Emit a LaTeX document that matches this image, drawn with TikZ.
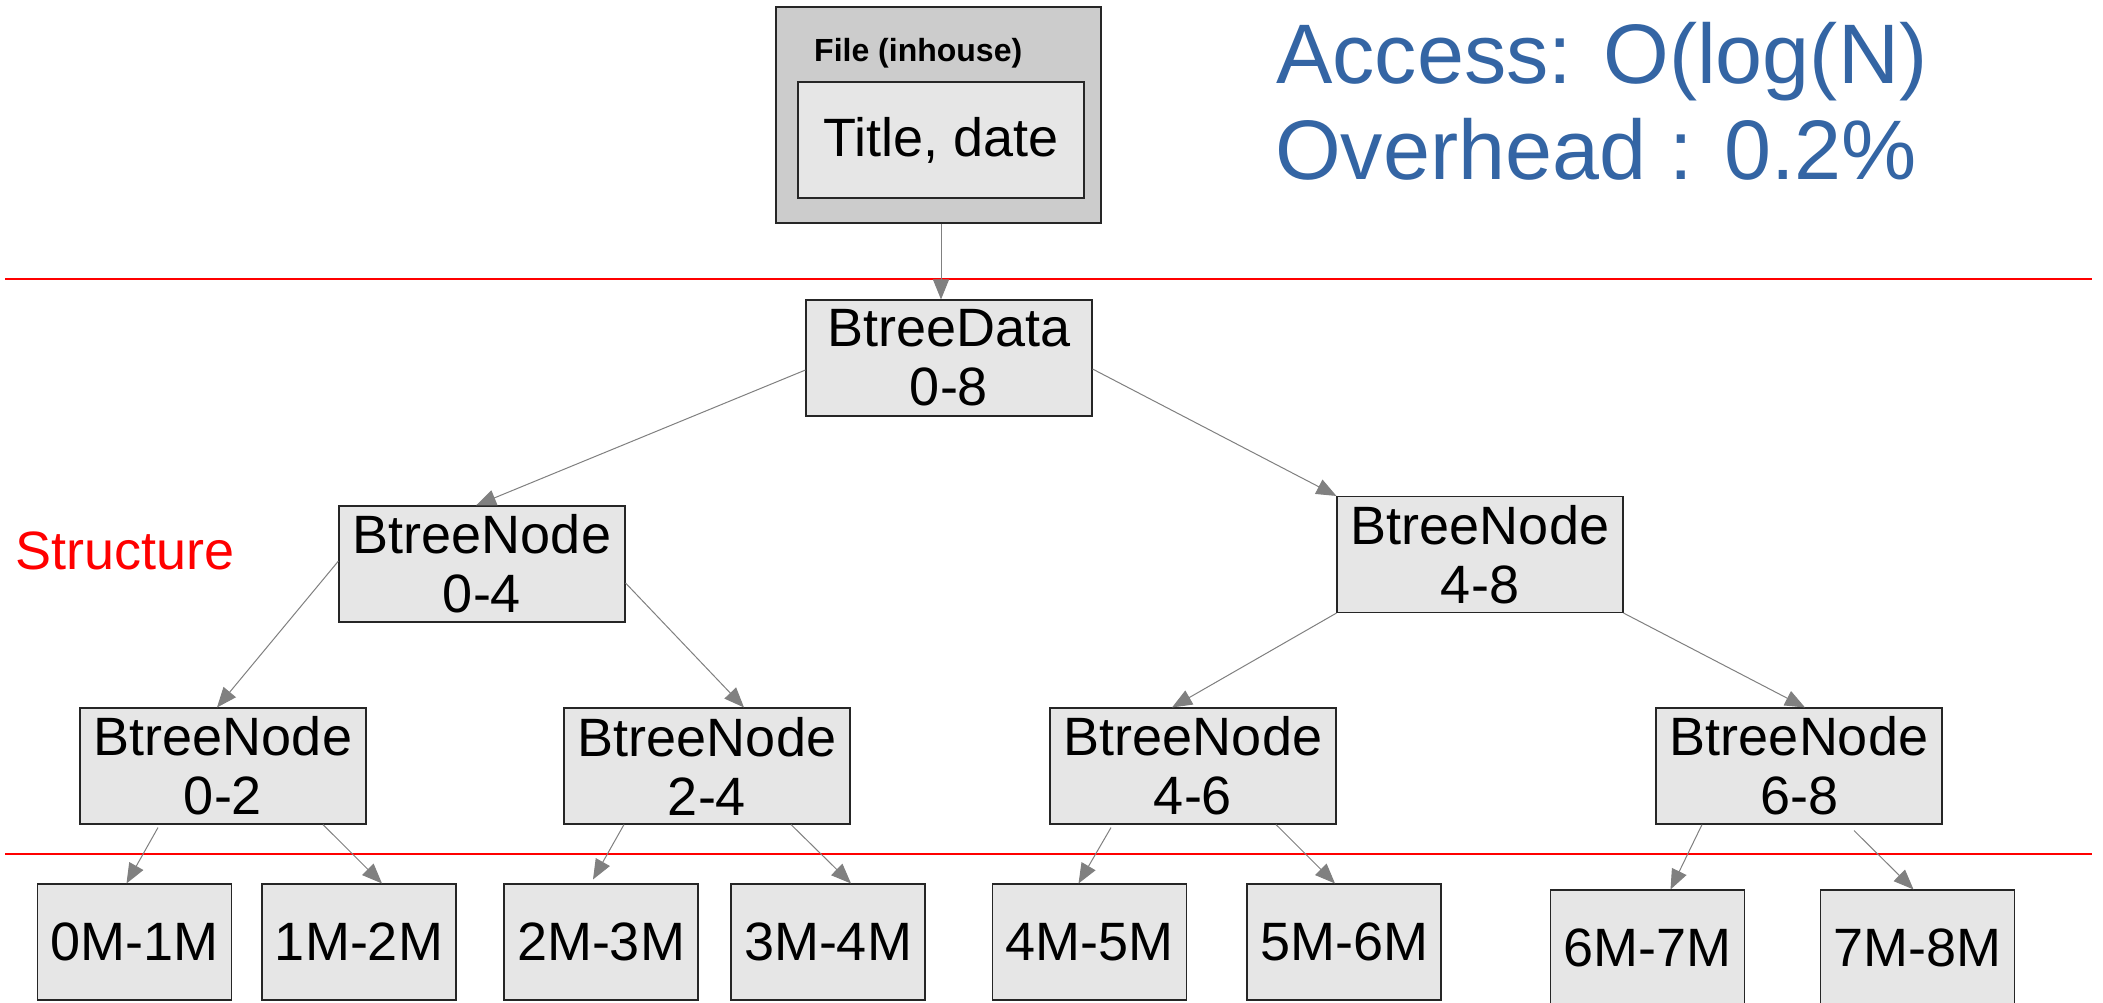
\documentclass[tikz,border=0pt]{standalone}
\usepackage{fontspec}
\setmainfont{Liberation Sans}
\usetikzlibrary{arrows.meta}
\definecolor{boxfill}{HTML}{E6E6E6}
\definecolor{outerfill}{HTML}{CCCCCC}
\definecolor{accblue}{HTML}{3465A4}
\definecolor{edgegray}{HTML}{808080}
\definecolor{sepred}{HTML}{FF0000}
\begin{document}
\begin{tikzpicture}[x=1pt,y=-1pt,
  box/.style={draw=black!85, line width=1.1pt, fill=boxfill, minimum width=286pt, minimum height=116pt, inner sep=0pt, align=center, font=\fontsize{54}{59}\selectfont},
  leaf/.style={box, minimum width=194pt},
  edge/.style={draw=edgegray, line width=1pt, -{Triangle[length=20pt,width=16pt]}},
  sep/.style={draw=sepred, line width=1.5pt}]
\fill[white] (0,0) rectangle (2103,1002);
\useasboundingbox (0,0) rectangle (2103,1002);

% separators
\coordinate (s1l) at (5,279);
\coordinate (s1r) at (2092,279);
\coordinate (s2l) at (5,854);
\coordinate (s2r) at (2092,854);
\draw[sep] (s1l) -- (s1r);
\draw[sep] (s2l) -- (s2r);

% file box
\node[draw=black!85, line width=1.1pt, fill=outerfill, minimum width=325pt, minimum height=216pt, inner sep=0pt] (file) at (938.5,115) {};
\node[anchor=base west, inner sep=0pt, font=\bfseries\fontsize{32}{36}\selectfont] (filelbl) at (814,61) {File (inhouse)};
\node[box] (title) at (941,140) {Title, date};

% texts
\node[anchor=base west, inner sep=0pt, text=accblue, font=\fontsize{84.5}{96}\selectfont] (acc) at (1276,83) {Access: O(log(N)};
\node[anchor=base west, inner sep=0pt, text=accblue, font=\fontsize{84.5}{96}\selectfont] (ovh) at (1275,179) {Overhead : 0.2\%};
\node[anchor=base west, inner sep=0pt, text=sepred, font=\fontsize{54}{59}\selectfont] (struct) at (15,569) {Structure};

% tree
\node[box] (bd) at (949,358) {BtreeData\\0-8};
\node[box] (n04) at (482,564) {BtreeNode\\0-4};
\node[box] (n48) at (1480,554.5) {BtreeNode\\4-8};
\node[box] (n02) at (223,766) {BtreeNode\\0-2};
\node[box] (n24) at (707,766) {BtreeNode\\2-4};
\node[box] (n46) at (1193,766) {BtreeNode\\4-6};
\node[box] (n68) at (1799,766) {BtreeNode\\6-8};

\node[leaf] (l0) at (134.5,942) {0M-1M};
\node[leaf] (l1) at (359,942) {1M-2M};
\node[leaf] (l2) at (601,942) {2M-3M};
\node[leaf] (l3) at (828,942) {3M-4M};
\node[leaf] (l4) at (1089.5,942) {4M-5M};
\node[leaf] (l5) at (1344,942) {5M-6M};
\node[leaf] (l6) at (1647.5,948) {6M-7M};
\node[leaf] (l7) at (1917.5,948) {7M-8M};

% edges
\draw[edge] (title.south |- file.south) -- (title.south |- bd.north);
\draw[edge] ([yshift=-12pt]bd.west) -- ([xshift=-6pt]n04.north);
\draw[edge] ([yshift=-11pt]bd.east) -- (n48.north west);
\draw[edge] ([yshift=3pt]n04.west) -- ([xshift=-6pt]n02.north);
\draw[edge] ([yshift=-19pt]n04.east) -- ([xshift=37pt]n24.north);
\draw[edge] (n48.south west) -- ([xshift=-21pt]n46.north);
\draw[edge] (n48.south east) -- ([xshift=6pt]n68.north);

\draw[edge] ([xshift=-65pt,yshift=-3pt]n02.south) -- ([xshift=-8pt]l0.north);
\draw[edge] ([xshift=100pt]n02.south) -- ([xshift=23pt]l1.north);
\draw[edge] ([xshift=-83pt]n24.south) -- ([xshift=-8pt,yshift=4pt]l2.north);
\draw[edge] ([xshift=84pt]n24.south) -- ([xshift=23pt]l3.north);
\draw[edge] ([xshift=-82pt,yshift=-3pt]n46.south) -- ([xshift=-11pt]l4.north);
\draw[edge] ([xshift=83pt]n46.south) -- ([xshift=-9pt]l5.north);
\draw[edge] ([xshift=-97pt]n68.south) -- ([xshift=23pt]l6.north);
\draw[edge] ([xshift=55pt,yshift=-6pt]n68.south) -- ([xshift=-4pt]l7.north);
\end{tikzpicture}
\end{document}
